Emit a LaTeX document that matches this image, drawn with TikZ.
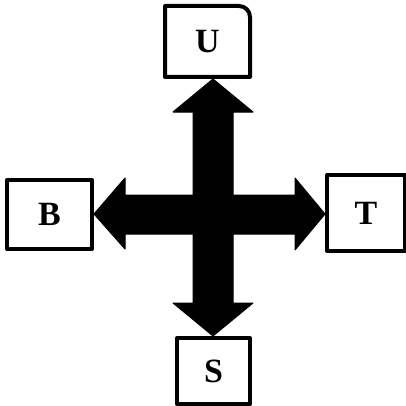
\documentclass[tikz,border=0pt]{standalone}
\usepackage{fontspec}
\setmainfont{Liberation Serif}
\usetikzlibrary{calc}
\begin{document}
\begin{tikzpicture}[x=1pt,y=1pt,
  box/.style={draw=none,line width=4pt,minimum width=#1,inner sep=0pt,font=\fontsize{34}{34}\selectfont\bfseries},
  boxline/.style={draw=black,line width=4pt,line join=round},
  arrowshape/.style={fill=black,draw=black,line width=1pt,line join=round}]
\useasboundingbox (0,0) rectangle (406,405);
\node[box=81pt,minimum height=67pt] (U) at (207.5,363.5) {U};
\node[box=81pt,minimum height=65pt] (B) at (49.5,190.5) {B};
\node[box=74pt,minimum height=72pt] (T) at (366,192) {T};
\node[box=69pt,minimum height=62pt] (S) at (213.5,34) {S};
\draw[boxline] (U.south west) -- (U.north west) -- ([xshift=-11pt]U.north east) arc[start angle=90,end angle=0,radius=11pt] -- (U.south east) -- cycle;
\draw[boxline] (B.south west) rectangle (B.north east);
\draw[boxline] (T.south west) rectangle (T.north east);
\draw[boxline] (S.south west) rectangle (S.north east);
\coordinate (c) at (213,191);
\coordinate (tu) at ($(c |- U.south)+(0,-2)$);
\coordinate (td) at ($(c |- S.north)+(0,2)$);
\coordinate (tl) at ($(B.east |- c)+(2,0)$);
\coordinate (tr) at ($(T.west |- c)+(-2,0)$);
\fill[arrowshape] (tu) -- (253,293) -- (233,293) -- (233,210) -- (295,210) -- (295,227) -- (tr) -- (295,155) -- (295,171) -- (233,171) -- (233,102) -- (253,102) -- (td) -- (173,102) -- (193,102) -- (193,171) -- (125,171) -- (125,156) -- (tl) -- (125,227) -- (125,210) -- (193,210) -- (193,293) -- (173,293) -- cycle;
\end{tikzpicture}
\end{document}
